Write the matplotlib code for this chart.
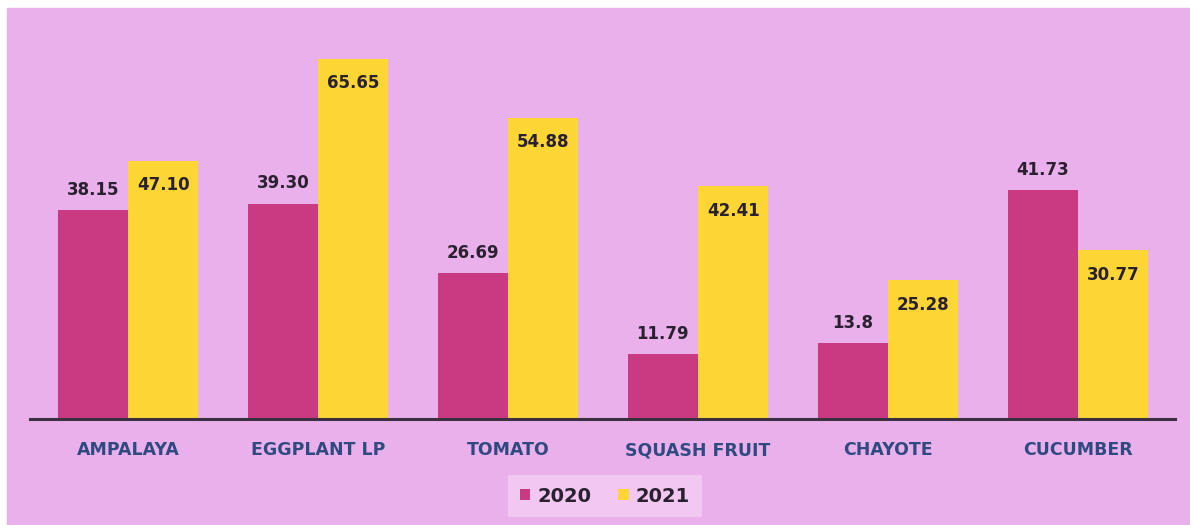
import matplotlib
matplotlib.use("Agg")
import matplotlib.pyplot as plt
import matplotlib.patches as mpatches
import numpy as np

categories = ["AMPALAYA", "EGGPLANT LP", "TOMATO", "SQUASH FRUIT", "CHAYOTE", "CUCUMBER"]
vals_2020 = [38.15, 39.30, 26.69, 11.79, 13.8, 41.73]
vals_2021 = [47.10, 65.65, 54.88, 42.41, 25.28, 30.77]
labels_2020 = ["38.15", "39.30", "26.69", "11.79", "13.8", "41.73"]
labels_2021 = ["47.10", "65.65", "54.88", "42.41", "25.28", "30.77"]
series_names = ["2020", "2021"]

bg = "#eab0ec"
c2020 = "#c93a82"
c2021 = "#fdd535"
cat_color = "#2f4a80"
txt_color = "#2a2130"
font = "DejaVu Sans"

W, H = 1190, 525
fig = plt.figure(figsize=(W / 100, H / 100), dpi=100)
fig.patch.set_facecolor("white")
# pink panel, with a thin white strip on the top and left like the scan
fig.patches.append(mpatches.Rectangle((7 / W, 0), 1 - 7 / W, (H - 8) / H,
                                      transform=fig.transFigure, color=bg, zorder=-10))

# axes in pixel coords: left 30, right 1175, baseline 418 from top, top 10
ax = fig.add_axes([30 / W, (H - 419) / H, (1175 - 30) / W, (419 - 10) / H])
ax.set_facecolor("none")

x = np.arange(len(categories))
w = 0.37
ax.bar(x - w / 2, vals_2020, w, color=c2020, label=series_names[0], zorder=2)
ax.bar(x + w / 2, vals_2021, w, color=c2021, label=series_names[1], zorder=2)

for i in range(len(categories)):
    ax.annotate(labels_2020[i], (x[i] - w / 2, vals_2020[i]), xytext=(0, 8),
                textcoords="offset points", ha="center", va="bottom",
                fontsize=12, fontweight="bold", color=txt_color, family=font)
    ax.annotate(labels_2021[i], (x[i] + w / 2, vals_2021[i]), xytext=(0, -11),
                textcoords="offset points", ha="center", va="top",
                fontsize=12, fontweight="bold", color=txt_color, family=font)

ax.set_xlim(-0.516, 5.51)
ax.set_ylim(0, 74.6)
ax.set_yticks([])
ax.set_xticks(x)
ax.set_xticklabels(categories, fontsize=12.5, fontweight="bold", color=cat_color, family=font)
ax.tick_params(axis="x", length=0, pad=16)
for s in ["top", "right", "left"]:
    ax.spines[s].set_visible(False)
ax.spines["bottom"].set_color("#3a3040")
ax.spines["bottom"].set_linewidth(2.2)

leg = fig.legend(loc="center", bbox_to_anchor=(605 / W, (H - 496) / H), ncol=2,
                 frameon=True, fancybox=False, handlelength=0.55, handleheight=0.55,
                 handletextpad=0.35, columnspacing=1.4, borderpad=0.6,
                 prop={"family": font, "weight": "bold", "size": 14})
leg.get_frame().set_facecolor("#f2c8f2")
leg.get_frame().set_edgecolor("none")
leg.get_frame().set_alpha(1)
for t in leg.get_texts():
    t.set_color(txt_color)

fig.savefig("out.png", dpi=100, facecolor=fig.get_facecolor())
